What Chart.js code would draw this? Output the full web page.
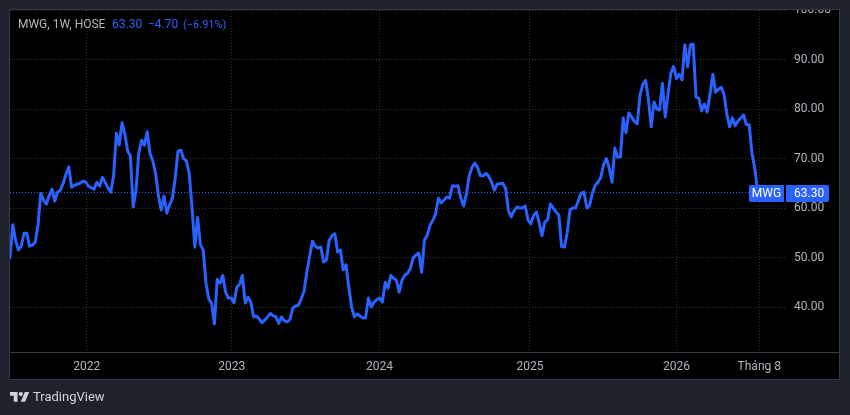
<!DOCTYPE html>
<html>
<head>
<meta charset="utf-8">
<title>MWG</title>
<script src="https://cdn.jsdelivr.net/npm/chart.js@4"></script>
<style>
  html, body { margin: 0; padding: 0; background: #1e222d; }
  canvas { display: block; }
</style>
</head>
<body>
<canvas id="grafico" width="850" height="415"></canvas>
<script>
// Weekly closes, oldest first
const closes = [
  49.9, 56.6, 53.5, 51.5, 52.3, 54.9, 54.9, 52.3, 52.5, 53.1,
  56.5, 63.0, 61.5, 60.8, 62.5, 63.8, 61.4, 63.2, 63.6, 65.0,
  66.8, 68.3, 64.2, 64.6, 64.8, 65.0, 65.4, 65.3, 64.4, 64.1,
  63.8, 65.2, 64.4, 66.2, 65.2, 64.0, 63.2, 66.5, 75.1, 72.7,
  77.2, 75.0, 71.5, 70.5, 60.2, 63.6, 71.1, 73.7, 72.7, 75.4,
  71.0, 69.5, 67.0, 62.5, 59.6, 62.4, 59.0, 60.6, 62.0, 66.0,
  71.5, 71.7, 70.0, 69.5, 67.0, 60.2, 52.1, 58.1, 52.6, 51.5,
  44.8, 41.6, 40.8, 36.6, 45.6, 44.8, 46.4, 43.0, 41.8, 41.8,
  40.8, 44.0, 44.6, 46.4, 40.8, 42.0, 41.0, 38.0, 38.2, 37.6,
  36.8, 37.4, 38.0, 38.7, 38.2, 38.0, 36.7, 38.0, 37.2, 37.0,
  37.5, 39.8, 40.2, 40.4, 41.6, 43.2, 47.0, 50.2, 53.3, 52.3,
  51.9, 52.1, 49.1, 49.5, 53.5, 54.4, 54.8, 51.1, 51.5, 47.5,
  48.5, 44.0, 40.0, 38.0, 38.6, 38.2, 37.8, 37.8, 41.8, 40.0,
  41.0, 41.5, 41.8, 41.0, 45.0, 43.8, 46.4, 45.8, 45.4, 43.0,
  45.4, 46.4, 46.8, 47.8, 50.0, 50.5, 50.9, 47.0, 53.5, 54.5,
  56.5, 57.5, 58.8, 62.0, 61.0, 61.6, 62.2, 62.0, 64.5, 64.4,
  64.5, 62.0, 60.4, 62.8, 66.5, 68.2, 69.1, 68.2, 66.5, 66.5,
  67.0, 66.4, 65.2, 63.6, 64.8, 64.9, 65.0, 64.0, 59.5, 58.2,
  59.4, 60.2, 60.0, 60.0, 60.4, 57.6, 56.8, 58.5, 59.2, 57.0,
  54.4, 57.2, 57.6, 60.8, 60.0, 59.2, 58.6, 52.2, 52.1, 55.0,
  59.6, 60.0, 60.0, 61.5, 63.0, 63.2, 60.0, 60.5, 63.0, 64.6,
  65.2, 66.2, 68.8, 70.0, 68.0, 65.2, 72.1, 70.3, 70.3, 78.2,
  75.2, 79.2, 78.4, 77.5, 77.0, 82.8, 85.0, 85.8, 82.0, 76.4,
  81.4, 80.0, 79.8, 85.2, 78.4, 83.0, 87.2, 88.6, 86.2, 87.0,
  85.9, 93.0, 88.5, 93.0, 93.1, 82.4, 82.2, 79.6, 81.0, 79.4,
  83.0, 87.0, 83.4, 84.0, 84.4, 83.0, 79.0, 76.4, 78.2, 76.6,
  77.6, 78.2, 78.8, 76.8, 76.8, 71.0, 68.0, 63.3
];

const precioTicks = [100, 90, 80, 70, 60, 50, 40];
const semanaTicks = [27.4, 79.2, 132, 185.7, 238, 267.6];
const semanaLabels = ['2022', '2023', '2024', '2025', '2026', 'Tháng 8'];

const simbolo = 'MWG';
const titulo = 'MWG, 1W, HOSE';
const ultimo = '63.30';
const cambio = '−4.70';
const cambioPct = '(−6.91%)';

const AZUL = '#2962ff';
const TEXTO = '#b2b5be';
const FONDO = '#1e222d';
const BORDE = '#363a45';
const FUENTE = 'Roboto, sans-serif';

// Fondo negro del panel
const panel = {
  id: 'panel',
  beforeDraw(chart) {
    const ctx = chart.ctx;
    ctx.save();
    ctx.fillStyle = FONDO;
    ctx.fillRect(0, 0, 850, 415);
    ctx.fillStyle = '#000000';
    ctx.fillRect(10, 10, 829, 369);
    ctx.restore();
  },
  afterDraw(chart) {
    const ctx = chart.ctx;
    ctx.save();
    // la banda superior corta la etiqueta de 100.00
    ctx.fillStyle = FONDO;
    ctx.fillRect(0, 0, 850, 10);
    ctx.strokeStyle = BORDE;
    ctx.lineWidth = 1;
    ctx.strokeRect(9.5, 9.5, 830, 370);
    ctx.beginPath();
    ctx.moveTo(10, 352.5);
    ctx.lineTo(839, 352.5);
    ctx.stroke();
    ctx.restore();
  }
};

// Línea del último precio, etiquetas del eje y cabecera
const ultimoPrecio = {
  id: 'ultimoPrecio',
  afterDatasetsDraw(chart) {
    const ctx = chart.ctx;
    const y = Math.round(chart.scales.y.getPixelForValue(closes[closes.length - 1]));
    ctx.save();
    ctx.strokeStyle = AZUL;
    ctx.lineWidth = 1;
    ctx.setLineDash([1, 2]);
    ctx.beginPath();
    ctx.moveTo(10, y + 0.5);
    ctx.lineTo(749, y + 0.5);
    ctx.stroke();
    ctx.setLineDash([]);

    ctx.fillStyle = AZUL;
    ctx.beginPath();
    ctx.roundRect(749, y - 7, 35, 17, [2, 0, 0, 2]);
    ctx.roundRect(786, y - 7, 43, 17, [0, 2, 2, 0]);
    ctx.fill();

    ctx.fillStyle = '#ffffff';
    ctx.font = '12px ' + FUENTE;
    ctx.textBaseline = 'middle';
    ctx.textAlign = 'center';
    ctx.fillText(simbolo, 766.5, y + 1.5);
    ctx.textAlign = 'left';
    ctx.fillText(ultimo, 794, y + 1.5);

    ctx.fillStyle = TEXTO;
    ctx.fillText(titulo, 18, 25);
    ctx.fillStyle = AZUL;
    ctx.fillText(ultimo, 112, 25);
    ctx.fillText(cambio, 148, 25);
    ctx.font = '11px ' + FUENTE;
    ctx.fillText(cambioPct, 183, 25);
    ctx.restore();
  }
};

const marca = {
  id: 'marca',
  afterDraw(chart) {
    const ctx = chart.ctx;
    ctx.save();
    ctx.fillStyle = '#d1d4dc';
    ctx.translate(10, 389.8);
    ctx.scale(0.54, 0.54);
    ctx.fill(new Path2D('M14 22H7V11H0V4h14v18zM28 22h-8l7.5-18h8L28 22z'));
    ctx.beginPath();
    ctx.arc(20, 8, 4, 0, Math.PI * 2);
    ctx.fill();
    ctx.restore();
    ctx.save();
    ctx.fillStyle = '#d1d4dc';
    ctx.font = '13px ' + FUENTE;
    ctx.textBaseline = 'middle';
    ctx.fillText('TradingView', 33, 397.5);
    ctx.restore();
  }
};

const rejilla = {
  color: 'rgba(120, 123, 134, 0.42)',
  lineWidth: 1,
  drawTicks: false
};

new Chart(document.getElementById('grafico').getContext('2d'), {
  type: 'line',
  data: {
    datasets: [{
      label: simbolo,
      data: closes.map((c, i) => ({ x: i, y: c })),
      borderColor: AZUL,
      borderWidth: 3,
      pointRadius: 0,
      tension: 0,
      borderJoinStyle: 'round',
      borderCapStyle: 'round'
    }]
  },
  options: {
    responsive: false,
    animation: false,
    events: [],
    layout: { padding: { left: 10, top: 10, right: 11, bottom: 36 } },
    plugins: { legend: { display: false }, tooltip: { enabled: false } },
    scales: {
      x: {
        type: 'linear',
        min: 0,
        max: 277.14,
        afterBuildTicks: axis => { axis.ticks = semanaTicks.map(value => ({ value })); },
        afterFit: axis => {
          axis.height = 27;
          axis.paddingLeft = 0;
          axis.paddingRight = 0;
        },
        grid: rejilla,
        border: { display: false, dash: [1, 2] },
        ticks: {
          autoSkip: false,
          maxRotation: 0,
          padding: 8,
          color: TEXTO,
          font: { family: FUENTE, size: 12 },
          callback: value => semanaLabels[semanaTicks.indexOf(value)]
        }
      },
      y: {
        position: 'right',
        min: 30.91,
        max: 100,
        afterBuildTicks: axis => { axis.ticks = precioTicks.map(value => ({ value })); },
        afterFit: axis => {
          axis.width = 53;
          axis.paddingTop = 0;
          axis.paddingBottom = 0;
        },
        grid: rejilla,
        border: { display: false, dash: [1, 2] },
        ticks: {
          padding: 8,
          color: TEXTO,
          font: { family: FUENTE, size: 12 },
          callback: value => value.toFixed(2)
        }
      }
    }
  },
  plugins: [panel, ultimoPrecio, marca]
});
</script>
</body>
</html>
